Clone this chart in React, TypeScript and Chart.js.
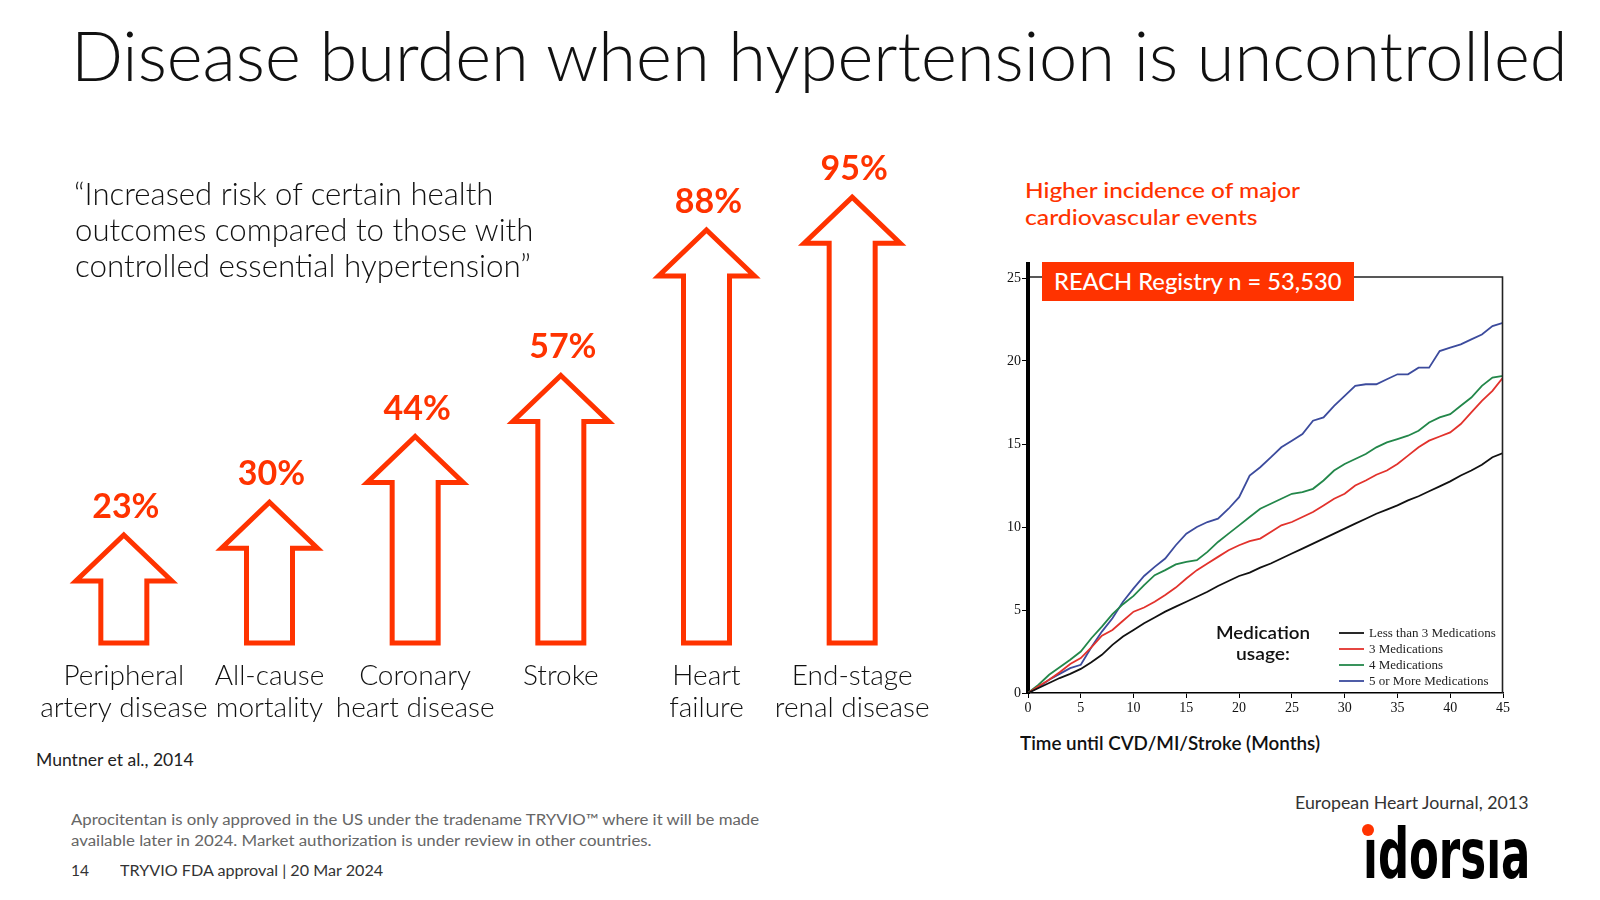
import React, { useEffect, useRef } from 'react';
import { Chart, registerables } from 'chart.js';

Chart.register(...registerables);

const ORANGE = '#ff3300';

// ---------- Arrow chart data ----------
const outcomeLabels: string[][] = [
  ['Peripheral', 'artery disease'],
  ['All-cause', 'mortality'],
  ['Coronary', 'heart disease'],
  ['Stroke'],
  ['Heart', 'failure'],
  ['End-stage', 'renal disease'],
];
const riskIncrease = [23, 30, 44, 57, 88, 95];

// ---------- Kaplan-Meier chart data (months vs % with event) ----------
const months = [0, 1, 2, 3, 4, 5, 6, 7, 8, 9, 10, 11, 12, 13, 14, 15, 16, 17, 18, 19, 20, 21, 22, 23, 24, 25, 26, 27, 28, 29, 30, 31, 32, 33, 34, 35, 36, 37, 38, 39, 40, 41, 42, 43, 44, 45];
const lessThan3Meds = [0, 0.3, 0.6, 0.9, 1.15, 1.45, 1.85, 2.3, 2.9, 3.4, 3.8, 4.2, 4.55, 4.9, 5.2, 5.5, 5.8, 6.1, 6.45, 6.75, 7.05, 7.25, 7.55, 7.8, 8.1, 8.4, 8.7, 9.0, 9.3, 9.6, 9.9, 10.2, 10.5, 10.8, 11.05, 11.3, 11.6, 11.85, 12.15, 12.45, 12.75, 13.1, 13.4, 13.75, 14.2, 14.45];
const meds3 = [0, 0.4, 0.8, 1.25, 1.75, 2.1, 2.75, 3.45, 3.8, 4.35, 4.9, 5.15, 5.5, 5.9, 6.35, 6.9, 7.4, 7.8, 8.2, 8.6, 8.9, 9.15, 9.3, 9.7, 10.1, 10.3, 10.6, 10.9, 11.3, 11.7, 12.0, 12.5, 12.8, 13.15, 13.4, 13.8, 14.3, 14.8, 15.2, 15.45, 15.7, 16.2, 16.9, 17.6, 18.2, 19.0];
const meds4 = [0, 0.5, 1.1, 1.55, 2.0, 2.5, 3.3, 4.0, 4.75, 5.35, 5.85, 6.5, 7.1, 7.4, 7.75, 7.9, 8.0, 8.5, 9.1, 9.6, 10.1, 10.6, 11.1, 11.4, 11.7, 12.0, 12.1, 12.3, 12.8, 13.4, 13.8, 14.1, 14.4, 14.8, 15.1, 15.3, 15.5, 15.8, 16.3, 16.6, 16.8, 17.3, 17.8, 18.5, 19.0, 19.1];
const meds5Plus = [0, 0.35, 0.8, 1.15, 1.5, 1.7, 2.75, 3.7, 4.5, 5.5, 6.3, 7.05, 7.6, 8.1, 8.9, 9.6, 10.0, 10.3, 10.5, 11.1, 11.8, 13.1, 13.6, 14.2, 14.8, 15.2, 15.6, 16.4, 16.6, 17.3, 17.9, 18.5, 18.6, 18.6, 18.9, 19.2, 19.2, 19.6, 19.6, 20.6, 20.8, 21.0, 21.3, 21.6, 22.1, 22.3];
// last-event jump at 45 months
const finalValues = [15.3, 19.0, 20.8, 24.0];
const seriesNames = ['Less than 3 Medications', '3 Medications', '4 Medications', '5 or More Medications'];
const seriesColors = ['#111111', '#e2322c', '#23874a', '#3c4b9d'];
const seriesValues = [lessThan3Meds, meds3, meds4, meds5Plus];

// ---------- text helper ----------
let measureCtx: CanvasRenderingContext2D | null = null;
function measure(text: string, font: string): number {
  if (typeof document === 'undefined') return 0;
  if (!measureCtx) measureCtx = document.createElement('canvas').getContext('2d');
  if (!measureCtx) return 0;
  measureCtx.font = font;
  return measureCtx.measureText(text).width;
}

type FTProps = {
  text: string;
  left?: number;
  cx?: number;
  baseline: number;
  size: number;
  weight?: number;
  color?: string;
  width?: number;
  family?: string;
  asc?: number;
};

function FitText({ text, left, cx, baseline, size, weight = 400, color = '#111', width, family = 'Lato', asc = 0.887 }: FTProps) {
  let scale = 1;
  const natural = measure(text, `${weight} ${size}px ${family}`);
  if (width && natural > 0) {
    scale = Math.max(0.7, Math.min(1.4, width / natural));
  }
  const w = natural * scale;
  const x = cx !== undefined ? cx - w / 2 : left || 0;
  return (
    <div
      style={{
        position: 'absolute',
        left: x,
        top: baseline - asc * size,
        fontFamily: family,
        fontWeight: weight,
        fontSize: size,
        lineHeight: `${size}px`,
        color,
        whiteSpace: 'nowrap',
        transform: `scaleX(${scale})`,
        transformOrigin: 'left top',
        zIndex: 5,
      }}
    >
      {text}
    </div>
  );
}

// ---------- Arrow chart ----------
function ArrowChart() {
  const ref = useRef<HTMLCanvasElement>(null);
  useEffect(() => {
    if (!ref.current) return;
    const arrowPlugin = {
      id: 'arrowShapes',
      afterDatasetsDraw(chart: any) {
        const ctx = chart.ctx as CanvasRenderingContext2D;
        const meta = chart.getDatasetMeta(0);
        ctx.save();
        meta.data.forEach((bar: any, i: number) => {
          const x = bar.x;
          const y = bar.y;
          const base = bar.base;
          const hw = 48;
          const sw = 23;
          const hh = 46;
          ctx.beginPath();
          ctx.moveTo(x, y);
          ctx.lineTo(x + hw, y + hh);
          ctx.lineTo(x + sw, y + hh);
          ctx.lineTo(x + sw, base);
          ctx.lineTo(x - sw, base);
          ctx.lineTo(x - sw, y + hh);
          ctx.lineTo(x - hw, y + hh);
          ctx.closePath();
          ctx.lineWidth = 5;
          ctx.lineJoin = 'miter';
          ctx.strokeStyle = ORANGE;
          ctx.stroke();

          ctx.textAlign = 'center';
          ctx.textBaseline = 'alphabetic';
          ctx.fillStyle = ORANGE;
          ctx.font = '700 34px Lato';
          ctx.fillText(`${riskIncrease[i]}%`, x + 2, y - 17);

          ctx.fillStyle = '#111';
          ctx.font = '300 28px Lato';
          outcomeLabels[i].forEach((ln, j) => {
            ctx.fillText(ln, x, base + 42 + j * 31.6);
          });
        });
        ctx.restore();
      },
    };
    const chart = new Chart(ref.current, {
      type: 'bar',
      data: {
        labels: outcomeLabels.map((l) => l.join(' ')),
        datasets: [
          {
            data: riskIncrease,
            backgroundColor: 'rgba(0,0,0,0)',
            borderWidth: 0,
          },
        ],
      },
      options: {
        animation: false,
        responsive: false,
        maintainAspectRatio: false,
        events: [],
        layout: { padding: { top: 69, bottom: 80, left: 40, right: 40 } },
        plugins: { legend: { display: false }, tooltip: { enabled: false } },
        scales: {
          x: { display: false },
          y: { display: false, min: 0, max: 101 },
        },
      },
      plugins: [arrowPlugin],
    } as any);
    return () => chart.destroy();
  }, []);
  return (
    <canvas
      ref={ref}
      width={954}
      height={623}
      style={{ position: 'absolute', left: 11, top: 100, width: 954, height: 623 }}
    />
  );
}

// ---------- KM line chart ----------
function EventsChart() {
  const ref = useRef<HTMLCanvasElement>(null);
  useEffect(() => {
    if (!ref.current) return;
    const framePlugin = {
      id: 'frameAndLegend',
      afterDraw(chart: any) {
        const ctx = chart.ctx as CanvasRenderingContext2D;
        const a = chart.chartArea;
        ctx.save();
        ctx.strokeStyle = '#222';
        ctx.lineWidth = 1.6;
        ctx.beginPath();
        ctx.moveTo(a.left, a.top - 1);
        ctx.lineTo(a.right - 0.5, a.top - 1);
        ctx.lineTo(a.right - 0.5, a.bottom);
        ctx.stroke();

        ctx.strokeStyle = '#000';
        ctx.lineWidth = 4;
        ctx.beginPath();
        ctx.moveTo(a.left, a.top - 16);
        ctx.lineTo(a.left, a.top + 2);
        ctx.stroke();

        // legend
        const x0 = a.right - 164;
        const rows = [60, 44, 28, 12];
        ctx.font = '13px "Liberation Serif"';
        ctx.textAlign = 'left';
        ctx.textBaseline = 'middle';
        seriesNames.forEach((name, i) => {
          const y = a.bottom - rows[i];
          ctx.strokeStyle = seriesColors[i];
          ctx.lineWidth = 1.8;
          ctx.beginPath();
          ctx.moveTo(x0, y);
          ctx.lineTo(x0 + 25, y);
          ctx.stroke();
          ctx.fillStyle = '#222';
          ctx.fillText(name, x0 + 30, y + 1);
        });
        ctx.restore();
      },
    };
    const datasets = seriesValues.map((vals, i) => ({
      label: seriesNames[i],
      data: [...months.map((m, j) => ({ x: m, y: vals[j] })), { x: months[months.length - 1], y: finalValues[i] }],
      borderColor: seriesColors[i],
      borderWidth: 1.8,
      pointRadius: 0,
      tension: 0,
      fill: false,
    }));
    const tickFont = { family: '"Liberation Serif"', size: 14 };
    const chart = new Chart(ref.current, {
      type: 'line',
      data: { datasets },
      options: {
        animation: false,
        responsive: false,
        maintainAspectRatio: false,
        events: [],
        layout: { padding: { top: 20, right: 10, left: 0, bottom: 0 } },
        plugins: { legend: { display: false }, tooltip: { enabled: false } },
        scales: {
          x: {
            type: 'linear',
            min: 0,
            max: 45,
            ticks: { stepSize: 5, font: tickFont, color: '#111', padding: 2, maxRotation: 0 },
            grid: { drawOnChartArea: false, drawTicks: true, tickLength: 5, tickColor: '#000', tickWidth: 1 },
            border: { display: true, color: '#000', width: 1.6 },
            afterFit: (s: any) => {
              s.height = 30;
            },
          },
          y: {
            type: 'linear',
            min: 0,
            max: 25,
            ticks: { stepSize: 5, font: tickFont, color: '#111', padding: 1 },
            grid: { drawOnChartArea: false, drawTicks: true, tickLength: 6, tickColor: '#000', tickWidth: 1 },
            border: { display: true, color: '#000', width: 4 },
            afterFit: (s: any) => {
              s.width = 40;
            },
          },
        },
      },
      plugins: [framePlugin],
    } as any);
    return () => chart.destroy();
  }, []);
  return (
    <canvas
      ref={ref}
      width={525}
      height={465}
      style={{ position: 'absolute', left: 988, top: 258, width: 525, height: 465 }}
    />
  );
}

export default function App() {
  return (
    <div
      style={{
        position: 'absolute',
        left: 0,
        top: 0,
        width: 1600,
        height: 900,
        overflow: 'hidden',
        background: '#fff',
        fontFamily: 'Lato, sans-serif',
      }}
    >
      <FitText text="Disease burden when hypertension is uncontrolled" left={71} baseline={81.6} size={68} weight={300} width={1498} color="#111" />

      <FitText text="“Increased risk of certain health" left={74} baseline={205} size={31} weight={300} width={420} />
      <FitText text="outcomes compared to those with" left={75} baseline={241.5} size={31} weight={300} width={459} />
      <FitText text="controlled essential hypertension”" left={75} baseline={277.5} size={31} weight={300} width={456} />

      <ArrowChart />

      <FitText text="Muntner et al., 2014" left={36} baseline={766} size={17} weight={400} width={158} color="#222" />

      <FitText text="Higher incidence of major" left={1025} baseline={199.3} size={21.5} weight={500} width={276} color={ORANGE} />
      <FitText text="cardiovascular events" left={1025} baseline={226} size={21.5} weight={500} width={233} color={ORANGE} />

      <EventsChart />

      <div
        style={{
          position: 'absolute',
          left: 1042,
          top: 262,
          width: 312,
          height: 39,
          background: ORANGE,
          zIndex: 4,
        }}
      />
      <FitText text="REACH Registry n = 53,530" left={1054} baseline={290.7} size={23} weight={500} width={288} color="#fff" />

      <FitText text="Medication" cx={1262.5} baseline={640} size={17.5} weight={600} width={94} color="#111" />
      <FitText text="usage:" cx={1263} baseline={661} size={17.5} weight={600} width={54} color="#111" />

      <FitText text="Time until CVD/MI/Stroke (Months)" left={1020} baseline={750} size={18.5} weight={600} width={300} color="#111" />

      <FitText text="European Heart Journal, 2013" left={1295} baseline={809} size={17} weight={400} width={234} color="#333" />

      <FitText text="Aprocitentan is only approved in the US under the tradename TRYVIO™ where it will be made" left={71} baseline={826} size={15.5} weight={400} width={690} color="#666" />
      <FitText text="available later in 2024. Market authorization is under review in other countries." left={71} baseline={846.5} size={15.5} weight={400} width={582} color="#666" />
      <FitText text="14" left={71} baseline={877} size={15.5} weight={400} width={18} color="#333" />
      <FitText text="TRYVIO FDA approval | 20 Mar 2024" left={119.5} baseline={877} size={15.5} weight={400} width={264} color="#333" />

      <FitText text="ıdorsıa" left={1363} baseline={878} size={69} weight={700} width={166} family='"DejaVu Sans Condensed", "DejaVu Sans"' asc={0.846} color="#000" />
      <div
        style={{
          position: 'absolute',
          left: 1362,
          top: 824,
          width: 12,
          height: 12,
          borderRadius: 6,
          background: ORANGE,
          zIndex: 6,
        }}
      />
    </div>
  );
}
